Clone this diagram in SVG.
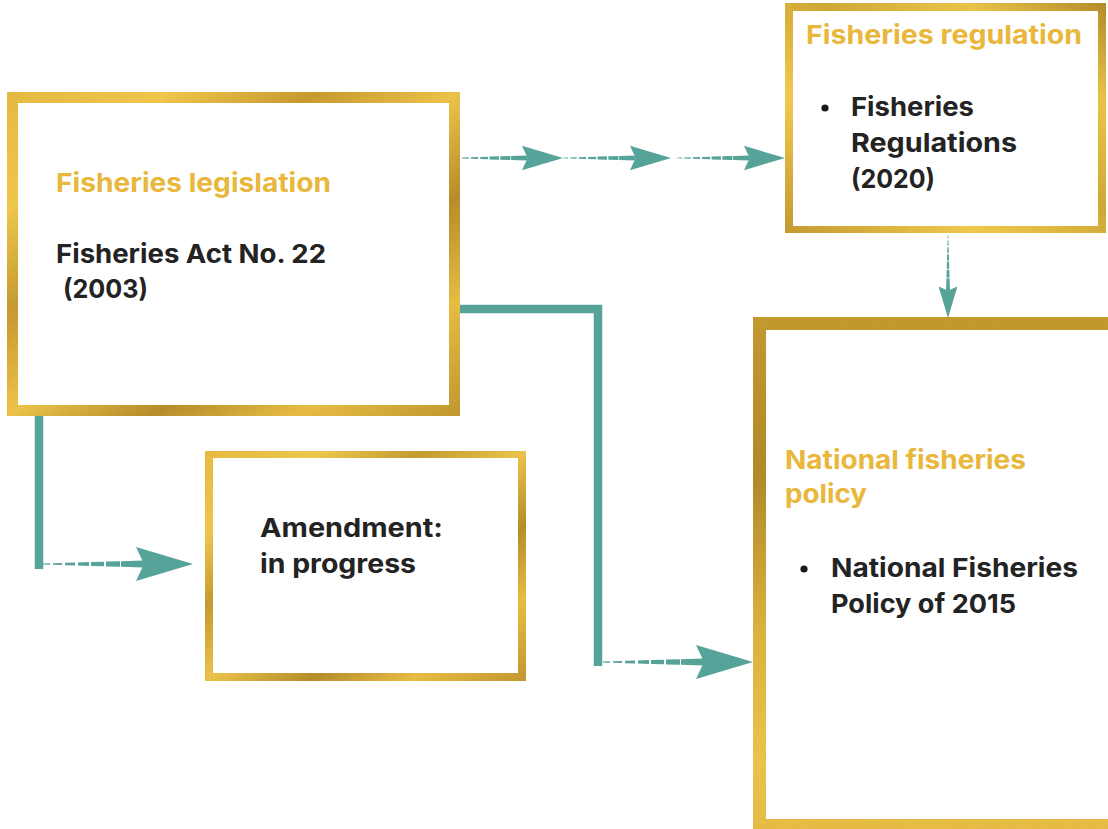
<svg xmlns="http://www.w3.org/2000/svg" xmlns:xlink="http://www.w3.org/1999/xlink" width="1108" height="829" viewBox="0 0 1108 829">
  <style>
    .frame { fill-rule: evenodd; filter: url(#grain); }
    .title { font-family: Inter, "Open Sans", "Liberation Sans", sans-serif; font-weight: 700; font-size: 26px; fill: #E8B73C; }
    .body { font-family: Inter, "Open Sans", "Liberation Sans", sans-serif; font-weight: 700; font-size: 26px; fill: #232323; }
    .bullet { fill: #1a1a1a; }
    .teal { fill: #55A399; }
    .bar { fill: none; stroke: #55A399; stroke-width: 8.5; stroke-linejoin: miter; }
  </style>
  <defs>
    <!-- gold foil gradients -->
    <linearGradient id="goldA" x1="0" y1="0" x2="1" y2="1">
      <stop offset="0" stop-color="#E7BB42"/>
      <stop offset="0.18" stop-color="#F0C84C"/>
      <stop offset="0.34" stop-color="#C79C30"/>
      <stop offset="0.5" stop-color="#EDC44A"/>
      <stop offset="0.66" stop-color="#B78E2B"/>
      <stop offset="0.82" stop-color="#E9BE44"/>
      <stop offset="1" stop-color="#C29830"/>
    </linearGradient>
    <linearGradient id="goldB" x1="1" y1="0" x2="0" y2="1">
      <stop offset="0" stop-color="#B68C2A"/>
      <stop offset="0.22" stop-color="#EDC44A"/>
      <stop offset="0.45" stop-color="#D2A936"/>
      <stop offset="0.7" stop-color="#F2CA4E"/>
      <stop offset="1" stop-color="#C59B30"/>
    </linearGradient>
    <linearGradient id="goldC" x1="0" y1="0" x2="0" y2="1">
      <stop offset="0" stop-color="#C59A2F"/>
      <stop offset="0.3" stop-color="#B48A2A"/>
      <stop offset="0.6" stop-color="#DDB33E"/>
      <stop offset="0.85" stop-color="#EEC44A"/>
      <stop offset="1" stop-color="#E6BC44"/>
    </linearGradient>
    <!-- fine grain for the foil look -->
    <filter id="grain" x="-2%" y="-2%" width="104%" height="104%">
      <feTurbulence type="fractalNoise" baseFrequency="0.7" numOctaves="2" seed="7" result="noise"/>
      <feColorMatrix in="noise" type="saturate" values="0" result="gray"/>
      <feComponentTransfer in="gray" result="soft">
        <feFuncR type="linear" slope="0.35" intercept="0.78"/>
        <feFuncG type="linear" slope="0.35" intercept="0.78"/>
        <feFuncB type="linear" slope="0.35" intercept="0.78"/>
      </feComponentTransfer>
      <feBlend in="SourceGraphic" in2="soft" mode="multiply" result="mixed"/>
      <feComposite in="mixed" in2="SourceGraphic" operator="in"/>
    </filter>
    <!-- tapered dashed arrow, tip at x=150, centred on y=0 -->
    <g id="dashArrow">
      <path d="M0,-0.5L7,-0.71L7,0.71L0,0.5Z M10,-0.8L19,-1.07L19,1.07L10,0.8Z M22,-1.16L32,-1.46L32,1.46L22,1.16Z M35,-1.55L46,-1.88L46,1.88L35,1.55Z M48,-1.94L61,-2.33L61,2.33L48,1.94Z M63,-2.39L77,-2.81L77,2.81L63,2.39Z M78,-2.84L101,-3.53L101,3.53L78,2.84Z"/>
      <path d="M150,0 L93,-17 L101,0 L93,17 Z"/>
    </g>
  </defs>

  <rect width="1108" height="829" fill="#ffffff"/>

  <!-- connectors -->
  <g id="connectors" class="teal">
    <use xlink:href="#dashArrow" transform="translate(455,158) scale(0.72)"/>
    <use xlink:href="#dashArrow" transform="translate(563,158) scale(0.72)"/>
    <use xlink:href="#dashArrow" transform="translate(677,158) scale(0.72)"/>
    <use xlink:href="#dashArrow" transform="translate(948,235) rotate(90) scale(0.553)"/>
    <path class="bar" d="M39,416 V569"/>
    <use xlink:href="#dashArrow" transform="translate(43,564)"/>
    <path class="bar" d="M458,309 H598 V666"/>
    <use xlink:href="#dashArrow" transform="translate(603,662)"/>
  </g>

  <!-- Fisheries legislation -->
  <g id="node-legislation">
    <path class="frame" fill="url(#goldA)" d="M7,92 H460 V416 H7 Z M18,103 V405 H449 V103 Z"/>
    <text class="title" x="56" y="192" textLength="275" lengthAdjust="spacingAndGlyphs">Fisheries legislation</text>
    <text class="body" x="56" y="263" textLength="270" lengthAdjust="spacingAndGlyphs">Fisheries Act No. 22</text>
    <text class="body" x="63" y="298" textLength="85" lengthAdjust="spacingAndGlyphs">(2003)</text>
  </g>

  <!-- Fisheries regulation -->
  <g id="node-regulation">
    <path class="frame" fill="url(#goldB)" d="M785,3 H1106 V233 H785 Z M793,11 V226 H1098 V11 Z"/>
    <text class="title" x="806" y="44" textLength="276" lengthAdjust="spacingAndGlyphs">Fisheries regulation</text>
    <circle class="bullet" cx="825" cy="108" r="3.6"/>
    <text class="body" x="851" y="116" textLength="123" lengthAdjust="spacingAndGlyphs">Fisheries</text>
    <text class="body" x="851" y="152" textLength="166" lengthAdjust="spacingAndGlyphs">Regulations</text>
    <text class="body" x="851" y="188" textLength="84" lengthAdjust="spacingAndGlyphs">(2020)</text>
  </g>

  <!-- National fisheries policy -->
  <g id="node-policy">
    <path class="frame" fill="url(#goldC)" d="M753,317 H1130 V840 H753 Z M766,330 V819 H1130 V330 Z"/>
    <text class="title" x="785" y="469" textLength="241" lengthAdjust="spacingAndGlyphs">National fisheries</text>
    <text class="title" x="785" y="503" textLength="82" lengthAdjust="spacingAndGlyphs">policy</text>
    <circle class="bullet" cx="804" cy="569" r="3.6"/>
    <text class="body" x="831" y="577" textLength="247" lengthAdjust="spacingAndGlyphs">National Fisheries</text>
    <text class="body" x="831" y="613" textLength="185" lengthAdjust="spacingAndGlyphs">Policy of 2015</text>
  </g>

  <!-- Amendment -->
  <g id="node-amendment">
    <path class="frame" fill="url(#goldA)" d="M205,451 H526 V681 H205 Z M213,458 V673 H518 V458 Z"/>
    <text class="body" x="260" y="537" textLength="183" lengthAdjust="spacingAndGlyphs">Amendment:</text>
    <text class="body" x="260" y="573" textLength="156" lengthAdjust="spacingAndGlyphs">in progress</text>
  </g>
</svg>
